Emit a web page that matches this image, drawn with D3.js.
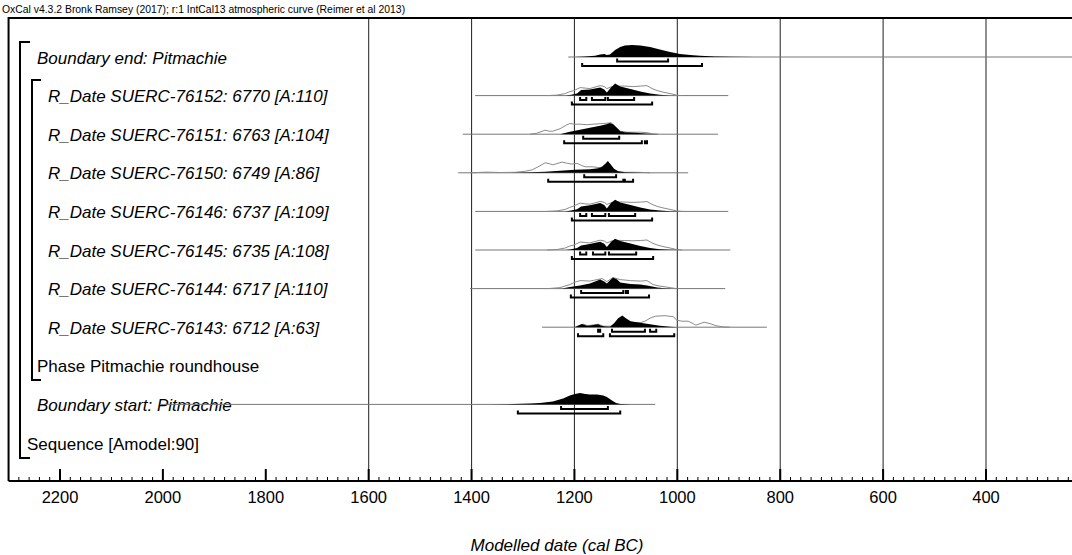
<!DOCTYPE html>
<html><head><meta charset="utf-8">
<script src="https://cdn.jsdelivr.net/npm/d3@7"></script>
<style>
html,body{margin:0;padding:0;background:#fff;}
svg{display:block;font-family:"Liberation Sans",Arial,sans-serif;}
</style></head>
<body><svg id="chart" width="1072" height="555"></svg>
<script>
// ---------------- DATA ----------------
const headerText = "OxCal v4.3.2 Bronk Ramsey (2017); r:1 IntCal13 atmospheric curve (Reimer et al 2013)";
const axisTitle = "Modelled date (cal BC)";
const tickYears = [2200, 2000, 1800, 1600, 1400, 1200, 1000, 800, 600, 400];
const gridYears = [1600, 1400, 1200, 1000, 800, 600, 400];

const rowIds = ["bEnd","r76152","r76151","r76150","r76146","r76145","r76144","r76143","phase","bStart","seq"];
const rowLabels = [
  "Boundary end: Pitmachie",
  "R_Date SUERC-76152: 6770 [A:110]",
  "R_Date SUERC-76151: 6763 [A:104]",
  "R_Date SUERC-76150: 6749 [A:86]",
  "R_Date SUERC-76146: 6737 [A:109]",
  "R_Date SUERC-76145: 6735 [A:108]",
  "R_Date SUERC-76144: 6717 [A:110]",
  "R_Date SUERC-76143: 6712 [A:63]",
  "Phase Pitmachie roundhouse",
  "Boundary start: Pitmachie",
  "Sequence [Amodel:90]"
];
const rowItalic = [true,true,true,true,true,true,true,true,false,true,false];
const rowLevel  = [1,2,2,2,2,2,2,2,1,1,0];

// range of each distribution's base line (cal BC)
const rowSpan = {
  bEnd:[1212, 150], r76152:[1393, 901], r76151:[1417, 921], r76150:[1426, 979],
  r76146:[1393, 901], r76145:[1393, 897], r76144:[1403, 907], r76143:[1263, 826],
  bStart:[2005, 1043]
};

// posterior (modelled) probability, relative
const posterior = {
  bEnd:[[1199,0],[1179,0.5],[1160,1.2],[1150,2.5],[1142,3],[1137,2],[1131,2.5],[1121,7],[1111,10],[1102,11.5],[1088,12],[1072,11.5],[1053,10],[1034,7.5],[1014,5],[995,3],[975,2],[956,1.2],[927,0.6],[898,0.3],[849,0.1],[820,0]],
  r76152:[[1218,0],[1209,0.5],[1195,2],[1187,5.5],[1170,6],[1150,8],[1142,6],[1137,3],[1129,8],[1121,12],[1111,9],[1091,6.5],[1072,4],[1053,2],[1034,0.8],[1014,0.2],[994,0]],
  r76151:[[1228,0],[1209,2.5],[1189,4.5],[1170,6.5],[1150,8.5],[1138,10],[1131,11.3],[1125,10],[1117,6],[1111,3],[1102,2],[1082,1.5],[1063,0.8],[1049,0.2],[1034,0]],
  r76150:[[1325,0],[1286,0.5],[1257,1],[1228,2],[1199,3],[1170,3.5],[1154,4.5],[1146,6],[1140,9],[1135,11.7],[1129,8],[1123,4],[1115,1.5],[1102,0.5],[1082,0.2],[1063,0]],
  r76146:[[1218,0],[1209,0.6],[1195,2.2],[1187,5],[1170,6.2],[1150,8.5],[1142,6.5],[1137,3],[1129,8.5],[1121,11.7],[1111,9],[1091,6.5],[1072,4],[1053,2],[1034,0.8],[1014,0.2],[994,0]],
  r76145:[[1218,0],[1209,0.5],[1195,2],[1187,4.5],[1170,6],[1150,8.3],[1142,6.3],[1137,3],[1129,8],[1121,11.3],[1111,9],[1091,6.5],[1072,4],[1053,2],[1034,0.8],[1014,0.2],[994,0]],
  r76144:[[1224,0],[1209,1.5],[1189,3],[1170,5],[1150,9],[1142,7],[1137,5],[1131,8],[1125,11],[1117,9],[1111,6],[1091,4.5],[1072,4],[1059,3],[1039,1],[1024,0.3],[1010,0]],
  r76143:[[1199,0],[1191,2],[1185,3.3],[1179,2],[1174,1.5],[1166,2],[1154,3],[1148,1.5],[1140,0.6],[1131,0.5],[1123,4],[1115,9],[1107,11.7],[1100,9],[1091,6],[1072,4.5],[1053,3],[1034,1.5],[1014,0.5],[999,0]],
  bStart:[[1364,0],[1319,0.3],[1286,0.8],[1267,1.5],[1242,3],[1222,6],[1209,9],[1199,10.5],[1189,11.5],[1179,10.5],[1170,10],[1156,10],[1144,9],[1137,7.5],[1127,4],[1119,1.5],[1111,0.5],[1091,0]]
};

// likelihood (unmodelled calibrated date), relative
const likelihood = {
  r76152:[[1253,0],[1234,0.5],[1218,2],[1209,4],[1201,5],[1189,8],[1179,7.5],[1170,7],[1160,8.5],[1150,10],[1142,9],[1137,7],[1127,9],[1115,9.5],[1102,9.5],[1086,9],[1072,9.5],[1059,10],[1049,7],[1039,5],[1028,3.5],[1014,2],[1002,0.5],[991,0]],
  r76151:[[1286,0],[1273,1],[1257,4],[1249,3],[1242,3],[1228,5.5],[1216,9],[1209,10.7],[1199,10],[1189,10],[1175,9.5],[1164,10],[1150,10.5],[1137,11],[1129,11.5],[1121,8],[1111,3],[1098,2],[1072,2],[1059,1.5],[1049,0.5],[1037,0]],
  r76150:[[1403,0],[1370,0.7],[1345,0.3],[1315,0.5],[1296,1.5],[1282,3],[1267,7],[1257,10],[1248,9],[1242,8],[1232,9.5],[1224,10.7],[1214,9.5],[1205,8.7],[1195,9.5],[1187,7.5],[1179,6],[1164,6],[1150,5],[1140,8],[1131,5],[1125,3],[1115,1],[1102,0.5],[1082,0.5],[1063,0.3],[1053,0]],
  r76146:[[1253,0],[1234,0.5],[1218,2],[1209,4],[1201,5.5],[1189,8.3],[1179,7.5],[1170,7.2],[1160,8.5],[1150,10],[1142,9],[1137,7],[1127,9],[1115,9.5],[1102,9.3],[1086,9],[1072,9.3],[1059,9.8],[1049,7],[1039,5],[1028,3.5],[1014,2],[1002,0.5],[991,0]],
  r76145:[[1253,0],[1234,0.5],[1218,2],[1209,4],[1201,5],[1189,8],[1179,7.5],[1170,7],[1160,8.5],[1150,9.8],[1142,9],[1137,7],[1127,9.2],[1115,9.6],[1102,9.5],[1086,9.2],[1072,9.5],[1059,10],[1049,7],[1039,5],[1028,3.5],[1014,2],[1002,0.5],[991,0]],
  r76144:[[1251,0],[1228,1],[1209,4],[1199,6.5],[1189,8],[1170,7.5],[1156,9],[1146,10],[1137,7],[1125,11],[1111,9],[1091,8],[1072,7.5],[1059,8],[1047,4],[1034,2.5],[1014,1],[1002,0]],
  r76143:[[1199,0],[1189,2],[1183,3],[1174,1.5],[1154,3],[1144,1],[1127,1],[1115,5],[1105,8],[1091,5],[1082,4],[1072,4.5],[1063,6],[1053,9],[1043,11],[1024,11.5],[1008,10.5],[1001,7],[991,6],[979,6],[969,3.5],[964,2],[956,3.5],[948,5],[936,3.5],[925,1.5],[911,0.3],[898,0]]
};

// highest posterior density ranges (cal BC)
const range68 = {
  bEnd:[[1117,1018]],
  r76152:[[1189,1177],[1166,1140],[1135,1084]],
  r76151:[[1183,1113]],
  r76150:[[1181,1119]],
  r76146:[[1189,1177],[1166,1140],[1133,1082]],
  r76145:[[1189,1177],[1164,1140],[1133,1080]],
  r76144:[[1187,1105],[1100,1096]],
  r76143:[[1154,1150],[1127,1063],[1053,1041]],
  bStart:[[1226,1135]]
};
const range95 = {
  bEnd:[[1185,952]],
  r76152:[[1205,1049]],
  r76151:[[1220,1069],[1063,1059]],
  r76150:[[1251,1105],[1102,1086]],
  r76146:[[1205,1049]],
  r76145:[[1205,1047]],
  r76144:[[1207,1055]],
  r76143:[[1193,1144],[1131,1006]],
  bStart:[[1310,1111]]
};

// ---------------- DRAW ----------------
const W = 1072, H = 555;
const svg = d3.select("#chart");
const FONT = "'Liberation Sans', Arial, sans-serif";

const x = d3.scaleLinear().domain([2200, 400]).range([60, 986]);
const y = d3.scalePoint().domain(rowIds).range([57, 443]);
const dens = d3.scaleLinear().domain([0, 12]).range([0, 12]);

const frameTop = 18, axisY = 481;
const leftX = x(2300);

// header
svg.append("text").attr("x", 2).attr("y", 13).attr("font-size", 10.4)
  .attr("font-family", FONT).attr("fill", "#000").text(headerText);

// gridlines
svg.append("g").selectAll("line").data(gridYears).join("line")
  .attr("x1", d => x(d)).attr("x2", d => x(d))
  .attr("y1", frameTop).attr("y2", axisY)
  .attr("stroke", "#333").attr("stroke-width", 1.1);

// frame top & left
svg.append("line").attr("x1", leftX).attr("x2", W).attr("y1", frameTop).attr("y2", frameTop)
  .attr("stroke", "#000").attr("stroke-width", 2);
svg.append("line").attr("x1", leftX).attr("x2", leftX).attr("y1", frameTop - 1).attr("y2", axisY)
  .attr("stroke", "#000").attr("stroke-width", 2);

// axis
const minor = d3.range(2300, 220, -20);
const gAxis = svg.append("g");
gAxis.append("line").attr("x1", leftX).attr("x2", W).attr("y1", axisY).attr("y2", axisY)
  .attr("stroke", "#000").attr("stroke-width", 2);
gAxis.selectAll("line.minor").data(minor.filter(d => d % 200 !== 0)).join("line")
  .attr("class", "minor")
  .attr("x1", d => x(d)).attr("x2", d => x(d)).attr("y1", axisY).attr("y2", axisY - 4)
  .attr("stroke", "#000").attr("stroke-width", 1);
gAxis.selectAll("line.major").data(tickYears).join("line")
  .attr("class", "major")
  .attr("x1", d => x(d)).attr("x2", d => x(d)).attr("y1", axisY).attr("y2", axisY - 12)
  .attr("stroke", "#000").attr("stroke-width", 2);
gAxis.selectAll("text").data(tickYears).join("text")
  .attr("x", d => x(d)).attr("y", 503).attr("text-anchor", "middle")
  .attr("font-size", 16.5).attr("font-family", FONT).text(d => d);

svg.append("text").attr("x", 557).attr("y", 551).attr("text-anchor", "middle")
  .attr("font-size", 17).attr("font-style", "italic").attr("font-family", FONT)
  .text(axisTitle);

// brackets (sequence & phase)
const br = svg.append("g").attr("fill", "none").attr("stroke", "#000").attr("stroke-width", 2);
br.append("path").attr("d", `M30,42 H20 V458 H30`);
br.append("path").attr("d", `M41,80 H32 V380 H41`);

// labels
const labelX = [27, 37, 48];
svg.append("g").selectAll("text").data(rowIds).join("text")
  .attr("x", (d, i) => labelX[rowLevel[i]])
  .attr("y", d => y(d) + 6.5)
  .attr("font-size", 17).attr("font-family", FONT)
  .attr("font-style", (d, i) => rowItalic[i] ? "italic" : "normal")
  .text((d, i) => rowLabels[i]);

// distributions
const clip = svg.append("clipPath").attr("id", "plotclip")
  .append("rect").attr("x", leftX).attr("y", frameTop).attr("width", W - leftX).attr("height", axisY - frameTop);
const plot = svg.append("g").attr("clip-path", "url(#plotclip)");

Object.keys(rowSpan).forEach(id => {
  const base = y(id);
  const g = plot.append("g");
  g.append("line").attr("x1", x(rowSpan[id][0])).attr("x2", x(rowSpan[id][1]))
    .attr("y1", base).attr("y2", base).attr("stroke", "#777").attr("stroke-width", 1);
  const area = d3.area().x(d => x(d[0])).y0(base).y1(d => base - dens(d[1]));
  const line = d3.line().x(d => x(d[0])).y(d => base - dens(d[1]));
  if (likelihood[id]) {
    g.append("path").attr("d", line(likelihood[id])).attr("fill", "none")
      .attr("stroke", "#8a8a8a").attr("stroke-width", 1);
  }
  g.append("path").attr("d", area(posterior[id])).attr("fill", "#000");
  const drawRanges = (ranges, off) => {
    ranges.forEach(r => {
      const x1 = x(r[0]), x2 = x(r[1]);
      g.append("path")
        .attr("d", `M${x1},${base + off - 3} V${base + off} H${x2} V${base + off - 3}`)
        .attr("fill", "none").attr("stroke", "#000").attr("stroke-width", 2);
    });
  };
  drawRanges(range68[id], 4.5);
  drawRanges(range95[id], 9);
});
</script></body></html>
